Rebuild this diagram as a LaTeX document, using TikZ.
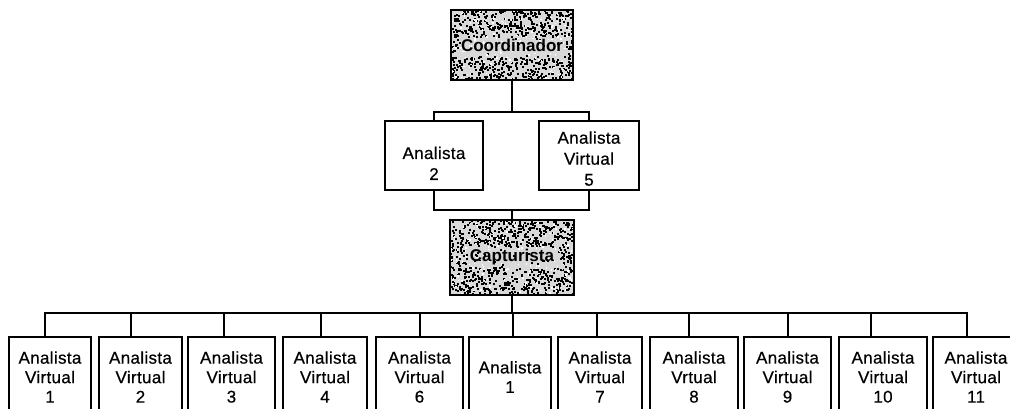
\documentclass[tikz,border=0pt]{standalone}
\usepackage{fontspec}
\setmainfont{Liberation Sans}
\newfontfamily\boxfont{Liberation Sans}[LetterSpace=2,FakeBold=0.5]
\usetikzlibrary{calc}

\tikzset{
  link/.style={line width=2pt},
  unit/.style={draw, line width=2pt, fill=white, align=center, inner sep=0pt,
    font=\boxfont\fontsize{17}{19.5}\selectfont},
  midunit/.style={unit, minimum height=69pt, font=\boxfont\fontsize{17}{21}\selectfont},
  lowunit/.style={unit, minimum height=80pt},
  % speckled fill; args: seed, left/right/top/bottom of the quieter band round the label
  hub/.style n args={5}{draw, line width=2pt, fill=gray!30, inner sep=0pt,
    font=\bfseries\fontsize{17}{19}\selectfont,
    path picture={
      \pgfmathsetseed{#1}
      \foreach \k in {1,...,1000}{
        \pgfmathsetmacro\px{rnd*126}
        \pgfmathsetmacro\py{rnd*78}
        \pgfmathtruncatemacro\inband{(\px>#2)*(\px<#3)*(\py>#4)*(\py<#5)*(rnd>0.1)}
        \ifnum\inband=0
          \fill[black] ($(path picture bounding box.north west)+(\px,\py)$) rectangle ++(2,2);
        \fi}
      \foreach \k in {1,...,200}{
        \pgfmathsetmacro\px{rnd*126}
        \pgfmathsetmacro\py{rnd*78}
        \fill[white] ($(path picture bounding box.north west)+(\px,\py)$) rectangle ++(1.5,1.5);}
    }},
}

\begin{document}
\begin{tikzpicture}[x=1pt,y=-1pt]
\useasboundingbox (0,0) rectangle (1010,409);
\clip (0,0) rectangle (1010,409);

% top of the chart
\node[hub={11}{7}{115}{26}{46}, minimum width=122pt, minimum height=70pt] (coord) at (512,45) {Coordinador};

\node[midunit, minimum width=98pt, text height=49pt] (an2) at (434,155.5) {Analista\\2};
\node[midunit, minimum width=100pt, text height=60.5pt] (av5) at (589,155.5) {Analista\\Virtual\\5};

\node[hub={23}{16}{108}{26}{47}, minimum width=124pt, minimum height=75pt] (captur) at (512,257.5) {Capturista};

% junctions of the horizontal bars
\coordinate (upbar) at (512,112);
\coordinate (midbar) at (512,210);
\coordinate (lowbar) at (512,313);

\draw[link] (coord.south) -- (upbar);
\draw[link] (an2.north) |- (upbar) -| (av5.north);
\draw[link] (an2.south) |- (midbar) -| (av5.south);
\draw[link] (midbar) -- (captur.north);
\draw[link] (captur.south) -- (lowbar);

% bottom row: name / centre / width / offset of the drop line / text
\foreach \n/\cx/\w/\dx/\txt in {
  v1/50/82/-5/{Analista\\Virtual\\1},
  v2/140.5/83/-9.5/{Analista\\Virtual\\2},
  v3/231.5/87/-7.5/{Analista\\Virtual\\3},
  v4/325/84/-4/{Analista\\Virtual\\4},
  v6/419.5/87/0/{Analista\\Virtual\\6},
  a1/510/82/3/{Analista\\1},
  v7/600/84/-3/{Analista\\Virtual\\7},
  v8/694/88/-5/{Analista\\Vrtual\\8},
  v9/787.5/87/0.5/{Analista\\Virtual\\9},
  v10/883/88/-12/{Analista\\Virtual\\10},
  v11/976/86/-9/{Analista\\Virtual\\11}}{
  \node[lowunit, minimum width=\w pt] (\n) at (\cx,377) {\txt};
  \draw[link] ([xshift=\dx pt]\n.north) |- (lowbar);
}
\end{tikzpicture}
\end{document}
